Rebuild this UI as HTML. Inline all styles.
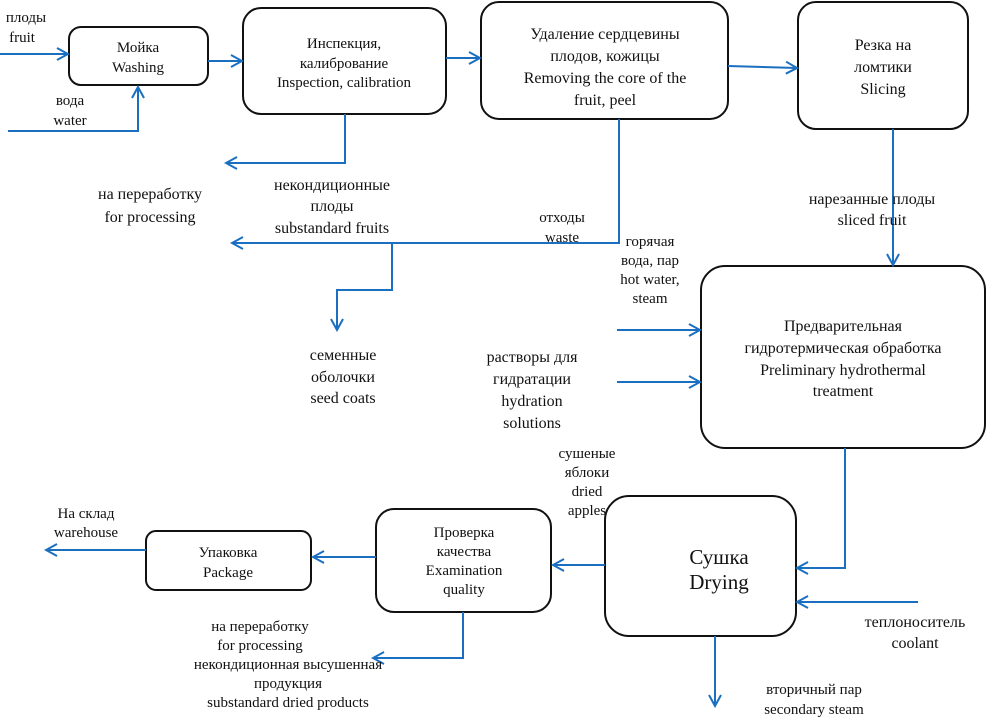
<!DOCTYPE html><html><head><meta charset="utf-8"><style>body{margin:0;background:#fff}svg{display:block}text{font-family:"Liberation Serif",serif;fill:#111;text-anchor:middle}</style></head><body>
<svg width="986" height="717" viewBox="0 0 986 717">
<defs><marker id="a" markerWidth="14" markerHeight="14" refX="12" refY="7" orient="auto" markerUnits="userSpaceOnUse"><path d="M1,1 L12,7 L1,13" fill="none" stroke="#1a6fc0" stroke-width="2"/></marker></defs>
<g fill="none" stroke="#111" stroke-width="2">
<rect x="69" y="27" width="139" height="58" rx="12"/>
<rect x="243" y="8" width="203" height="106" rx="18"/>
<rect x="481" y="2" width="247" height="117" rx="18"/>
<rect x="798" y="2" width="170" height="127" rx="18"/>
<rect x="701" y="266" width="284" height="182" rx="24"/>
<rect x="605" y="496" width="191" height="140" rx="24"/>
<rect x="376" y="509" width="175" height="103" rx="18"/>
<rect x="146" y="531" width="165" height="59" rx="10"/>
</g>
<g fill="none" stroke="#1a6fc0" stroke-width="2" marker-end="url(#a)">
<path d="M0,54 H68"/>
<path d="M8,131 H138 V87"/>
<path d="M208,61 H242"/>
<path d="M446,58 H480"/>
<path d="M728,66 L797,68"/>
<path d="M345,114 V163 H226"/>
<path d="M619,119 V243 H232"/>
<path d="M392,243 V290 H337 V330"/>
<path d="M893,129 V265"/>
<path d="M617,330 H700"/>
<path d="M617,382 H700"/>
<path d="M845,448 V568 H797"/>
<path d="M918,602 H797"/>
<path d="M605,565 H553"/>
<path d="M376,557 H313"/>
<path d="M146,550 H46"/>
<path d="M463,612 V658 H373"/>
<path d="M715,636 V706"/>
</g>
<g font-size="15">
<text x="26" y="22">плоды</text><text x="22" y="42">fruit</text>
<text x="138" y="52">Мойка</text><text x="138" y="72">Washing</text>
<text x="70" y="105">вода</text><text x="70" y="125">water</text>
<text x="344" y="48">Инспекция,</text><text x="344" y="68">калибрование</text><text x="344" y="87">Inspection, calibration</text>
<text x="605" y="39" font-size="16">Удаление сердцевины</text><text x="605" y="61" font-size="16">плодов, кожицы</text><text x="605" y="83" font-size="16">Removing the core of the</text><text x="605" y="105" font-size="16">fruit, peel</text>
<text x="883" y="50" font-size="16">Резка на</text><text x="883" y="72" font-size="16">ломтики</text><text x="883" y="94" font-size="16">Slicing</text>
<text x="150" y="199" font-size="16">на переработку</text><text x="150" y="222" font-size="16">for processing</text>
<text x="332" y="190" font-size="16">некондиционные</text><text x="332" y="211" font-size="16">плоды</text><text x="332" y="233" font-size="16">substandard fruits</text>
<text x="562" y="222">отходы</text><text x="562" y="242">waste</text>
<text x="650" y="246">горячая</text><text x="650" y="265">вода, пар</text><text x="650" y="284">hot water,</text><text x="650" y="303">steam</text>
<text x="872" y="204" font-size="16">нарезанные плоды</text><text x="872" y="225" font-size="16">sliced fruit</text>
<text x="343" y="360" font-size="16">семенные</text><text x="343" y="382" font-size="16">оболочки</text><text x="343" y="403" font-size="16">seed coats</text>
<text x="532" y="362" font-size="16">растворы для</text><text x="532" y="384" font-size="16">гидратации</text><text x="532" y="406" font-size="16">hydration</text><text x="532" y="428" font-size="16">solutions</text>
<text x="843" y="331" font-size="16">Предварительная</text><text x="843" y="353" font-size="16">гидротермическая обработка</text><text x="843" y="375" font-size="16">Preliminary hydrothermal</text><text x="843" y="396" font-size="16">treatment</text>
<text x="587" y="458">сушеные</text><text x="587" y="477">яблоки</text><text x="587" y="496">dried</text><text x="587" y="515">apples</text>
<text x="86" y="518">На склад</text><text x="86" y="537">warehouse</text>
<text x="228" y="557">Упаковка</text><text x="228" y="577">Package</text>
<text x="464" y="537">Проверка</text><text x="464" y="556">качества</text><text x="464" y="575">Examination</text><text x="464" y="594">quality</text>
<text x="719" y="564" font-size="21">Сушка</text><text x="719" y="589" font-size="21">Drying</text>
<text x="915" y="627" font-size="16">теплоноситель</text><text x="915" y="648" font-size="16">coolant</text>
<text x="260" y="631">на переработку</text><text x="260" y="650">for processing</text><text x="288" y="669">некондиционная высушенная</text><text x="288" y="688">продукция</text><text x="288" y="707">substandard dried products</text>
<text x="814" y="694">вторичный пар</text><text x="814" y="714">secondary steam</text>
</g>
</svg></body></html>
